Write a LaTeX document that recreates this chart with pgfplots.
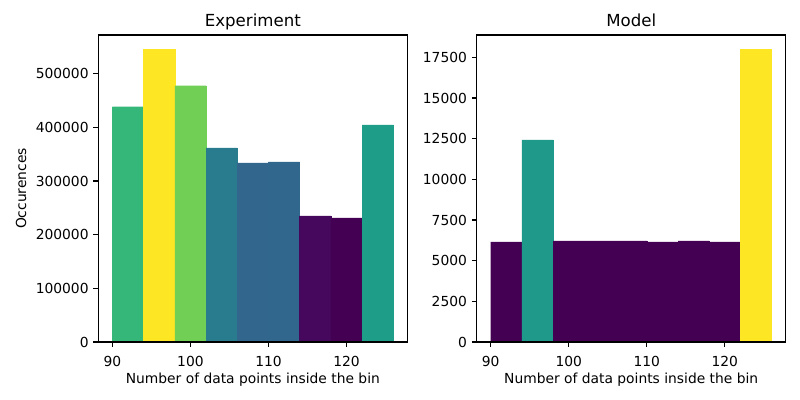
\documentclass[border=0pt]{standalone}
\usepackage{pgfplots}
\pgfplotsset{compat=1.18}
\usepackage{fontspec}
\setmainfont{DejaVu Sans}
\definecolor{eA}{HTML}{35B779}
\definecolor{eB}{HTML}{FDE725}
\definecolor{eC}{HTML}{72CF56}
\definecolor{eD}{HTML}{287C8E}
\definecolor{eE}{HTML}{32668D}
\definecolor{eF}{HTML}{31678D}
\definecolor{eG}{HTML}{46085C}
\definecolor{eH}{HTML}{440154}
\definecolor{eI}{HTML}{1E9D89}
\definecolor{mLow}{HTML}{440154}
\definecolor{mMid}{HTML}{1F9A8A}
\definecolor{mHigh}{HTML}{FDE725}
\pgfplotsset{histbar/.style={draw=#1, fill=#1, line width=0.3bp, const plot}}
\begin{document}
\begin{tikzpicture}
\path[use as bounding box] (0,0) rectangle (576bp,288bp);
\pgfplotsset{hist/.style={
  scale only axis, width=222.5bp, height=221bp, anchor=south west,
  xmin=88.2, xmax=127.8, ymin=0,
  xtick={90,100,110,120},
  tick align=outside, tick pos=left,
  major tick length=3.5bp,
  every tick/.style={black, line width=0.8bp},
  axis line style={line width=0.8bp},
  axis on top,
  scaled y ticks=false,
  /pgf/number format/fixed,
  /pgf/number format/1000 sep={},
  /pgf/number format/assume math mode=true,
  tick label style={font=\fontsize{10}{12}\selectfont},
  xticklabel style={yshift=-3bp},
  label style={font=\fontsize{10}{12}\selectfont},
  xlabel style={yshift=2bp},
  title style={font=\fontsize{12}{14}\selectfont, anchor=base, yshift=0bp},
  xlabel={Number of data points inside the bin},
}}
\begin{axis}[hist, at={(70.8bp,41.76bp)}, ymax=572015,
  ytick={0,100000,200000,300000,400000,500000},
  title={Experiment}, ylabel={Occurences}]
\addplot[histbar=eA] coordinates {(90,438433) (94,438433)} \closedcycle;
\addplot[histbar=eB] coordinates {(94,544776) (98,544776)} \closedcycle;
\addplot[histbar=eC] coordinates {(98,477612) (102,477612)} \closedcycle;
\addplot[histbar=eD] coordinates {(102,361940) (106,361940)} \closedcycle;
\addplot[histbar=eE] coordinates {(106,333955) (110,333955)} \closedcycle;
\addplot[histbar=eF] coordinates {(110,335821) (114,335821)} \closedcycle;
\addplot[histbar=eG] coordinates {(114,235075) (118,235075)} \closedcycle;
\addplot[histbar=eH] coordinates {(118,231343) (122,231343)} \closedcycle;
\addplot[histbar=eI] coordinates {(122,404851) (126,404851)} \closedcycle;
\end{axis}
\begin{axis}[hist, at={(343.2bp,41.76bp)}, ymax=18871,
  ytick={0,2500,5000,7500,10000,12500,15000,17500},
  title={Model}]
\addplot[histbar=mLow] coordinates {(90,6155) (94,6155)} \closedcycle;
\addplot[histbar=mMid] coordinates {(94,12433) (98,12433)} \closedcycle;
\addplot[histbar=mLow] coordinates {(98,6216) (102,6216)} \closedcycle;
\addplot[histbar=mLow] coordinates {(102,6216) (106,6216)} \closedcycle;
\addplot[histbar=mLow] coordinates {(106,6210) (110,6210)} \closedcycle;
\addplot[histbar=mLow] coordinates {(110,6155) (114,6155)} \closedcycle;
\addplot[histbar=mLow] coordinates {(114,6216) (118,6216)} \closedcycle;
\addplot[histbar=mLow] coordinates {(118,6155) (122,6155)} \closedcycle;
\addplot[histbar=mHigh] coordinates {(122,17972) (126,17972)} \closedcycle;
\end{axis}
\end{tikzpicture}
\end{document}
